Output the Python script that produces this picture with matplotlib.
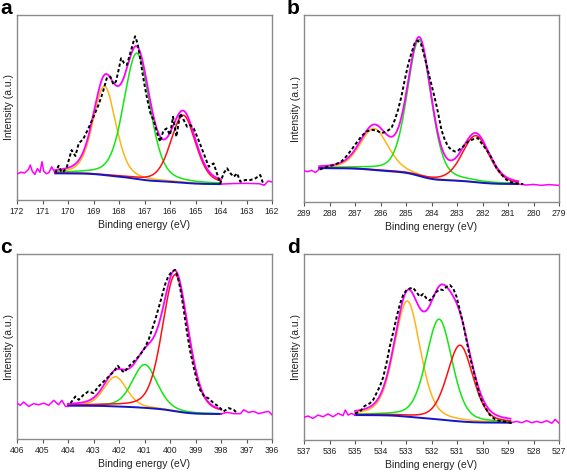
import numpy as np
import matplotlib
matplotlib.use('Agg')
import matplotlib.pyplot as plt

plt.rcParams['font.family'] = ['Liberation Sans', 'DejaVu Sans']

# colours of the fit components (high BE -> low BE)
COMP_COLORS = ['#ffb414', '#14e614', '#ff1010']
ENV_COLOR = '#ff00ff'
BASE_COLOR = '#1414c8'
GL_MIX = 0.3   # lorentzian share of the peak shape

# --- panel a ---------------------------------------------------------
a_xlim = (172, 162)
a_fit = (170.5, 164.0)           # fit window (high BE, low BE)
a_base = (14.4, 8.6)             # background at high BE end / low BE end
a_pos = [168.57, 167.30, 165.48]
a_amp = [48.0, 68.0, 36.5]
a_fwhm = [1.05, 1.20, 1.15]
a_raw_e = [170.50, 170.37, 170.25, 170.17, 170.04, 169.86, 169.71, 169.58, 169.40, 169.20,
           169.00, 168.80, 168.65, 168.48, 168.34, 168.22, 168.12, 168.03, 167.92, 167.80,
           167.69, 167.57, 167.45, 167.37, 167.27, 167.16, 167.03, 166.90, 166.77, 166.64,
           166.50, 166.39, 166.26, 166.13, 166.00, 165.88, 165.75, 165.60, 165.46, 165.33,
           165.20, 165.07, 164.88, 164.68, 164.48, 164.29, 164.16, 164.03, 163.90, 163.76,
           163.63, 163.50, 163.37, 163.24, 163.05, 162.85, 162.65, 162.46, 162.33]
a_raw_i = [14.4, 18.5, 15.0, 15.5, 18.0, 27.0, 23.8, 30.6, 33.0, 38.7,
           45.0, 51.5, 57.5, 65.8, 66.7, 62.5, 64.0, 69.4, 76.6, 74.0,
           73.0, 78.8, 84.7, 88.5, 84.5, 75.7, 64.5, 55.0, 47.0, 43.0,
           36.0, 31.5, 37.5, 38.7, 35.1, 45.0, 34.2, 46.8, 43.2, 39.6,
           40.5, 38.7, 32.4, 25.2, 18.0, 19.8, 14.4, 9.0, 14.4, 17.1,
           14.4, 12.6, 14.4, 9.9, 10.8, 10.8, 11.7, 13.5, 8.1]
a_left_e = [172.0, 171.85, 171.7, 171.55, 171.48, 171.4, 171.3, 171.2, 171.1, 171.02,
            170.95, 170.85, 170.75, 170.64, 170.5]
a_left_i = [14.1, 15.0, 14.6, 16.5, 18.9, 15.5, 13.8, 17.0, 15.0, 20.7,
            15.5, 14.2, 14.8, 17.9, 14.4]
a_right_e = [164.0, 163.5, 163.0, 162.5, 162.3, 162.15, 162.0]
a_right_i = [8.6, 8.9, 9.0, 8.8, 8.0, 10.3, 9.7]

# --- panel b ---------------------------------------------------------
b_xlim = (289, 279)
b_fit = (288.4, 280.6)
b_base = (18.1, 9.6)
b_pos = [286.25, 284.48, 282.26]
b_amp = [22.2, 72.9, 24.9]
b_fwhm = [1.30, 1.10, 1.25]
b_raw_e = [288.38, 288.06, 287.80, 287.53, 287.34, 287.14, 286.95, 286.75, 286.55, 286.36,
           286.16, 285.96, 285.77, 285.57, 285.44, 285.31, 285.18, 285.05, 284.92, 284.79,
           284.66, 284.55, 284.42, 284.29, 284.13, 284.00, 283.87, 283.74, 283.61, 283.48,
           283.35, 283.22, 283.08, 282.95, 282.76, 282.56, 282.36, 282.19, 282.04, 281.84,
           281.64, 281.45, 281.25, 281.06, 280.86, 280.60, 280.40]
b_raw_i = [17.4, 19.0, 19.9, 21.7, 24.4, 27.9, 31.5, 35.1, 37.7, 38.6,
           38.3, 36.8, 37.7, 39.5, 43.9, 49.3, 56.4, 65.3, 73.3, 79.5,
           84.9, 86.3, 84.9, 78.6, 69.8, 62.6, 55.5, 47.5, 38.6, 33.3,
           29.7, 27.9, 27.0, 27.6, 29.7, 32.4, 33.6, 34.2, 31.5, 27.9,
           23.5, 18.1, 14.6, 11.9, 10.5, 9.8, 9.6]
b_left_e = [289.0, 288.85, 288.7, 288.55, 288.4]
b_left_i = [16.7, 16.2, 16.9, 15.8, 17.6]
b_right_e = [280.6, 280.3, 280.0, 279.7, 279.4, 279.0]
b_right_i = [9.6, 9.1, 9.4, 8.9, 9.3, 8.9]

# --- panel c ---------------------------------------------------------
c_xlim = (406, 396)
c_fit = (404.0, 398.0)
c_base = (18.0, 13.5)
c_pos = [402.14, 400.99, 399.79]
c_amp = [16.0, 23.4, 73.8]
c_fwhm = [1.05, 1.15, 1.20]
c_raw_e = [403.90, 403.71, 403.58, 403.39, 403.20, 403.00, 402.80, 402.60, 402.40, 402.20,
           402.05, 401.92, 401.80, 401.62, 401.42, 401.23, 401.03, 400.84, 400.71, 400.58,
           400.45, 400.32, 400.20, 400.07, 399.93, 399.80, 399.70, 399.60, 399.48, 399.35,
           399.22, 399.08, 398.95, 398.82, 398.66, 398.50, 398.29, 398.10, 397.90, 397.70,
           397.50, 397.37]
c_raw_i = [19.4, 23.0, 21.2, 23.9, 25.7, 24.8, 28.4, 31.1, 33.8, 36.5,
           39.6, 37.4, 36.0, 39.2, 41.9, 44.6, 48.2, 53.6, 59.0, 64.4,
           70.7, 77.0, 83.3, 87.8, 90.5, 91.4, 87.8, 81.5, 71.6, 59.0,
           48.2, 39.2, 32.0, 26.6, 23.0, 22.1, 19.4, 17.6, 14.9, 16.7,
           15.8, 14.0]
c_left_e = [406.0, 405.87, 405.74, 405.54, 405.35, 405.15, 404.95, 404.76, 404.56, 404.37,
            404.24, 404.1, 404.0]
c_left_i = [19.4, 18.2, 20.0, 17.6, 19.1, 18.5, 19.4, 18.2, 20.9, 18.5,
            20.9, 17.6, 17.6]
c_right_e = [398.0, 397.76, 397.5, 397.24, 397.11, 396.92, 396.72, 396.52, 396.33, 396.13, 396.0]
c_right_i = [13.5, 14.4, 13.7, 13.7, 15.8, 14.4, 14.9, 13.7, 14.4, 14.9, 13.1]

# --- panel d ---------------------------------------------------------
d_xlim = (537, 527)
d_fit = (535.0, 528.9)
d_base = (13.4, 9.3)
d_pos = [532.95, 531.70, 530.88]
d_amp = [62.2, 53.9, 41.0]
d_fwhm = [1.20, 1.20, 1.20]
d_raw_e = [535.00, 534.81, 534.62, 534.42, 534.29, 534.16, 534.03, 533.90, 533.77, 533.64,
           533.50, 533.37, 533.24, 533.11, 532.98, 532.85, 532.72, 532.59, 532.46, 532.33,
           532.20, 532.07, 531.93, 531.80, 531.67, 531.54, 531.41, 531.28, 531.15, 531.02,
           530.89, 530.76, 530.63, 530.50, 530.36, 530.23, 530.10, 529.91, 529.71, 529.51,
           529.32, 529.12, 528.92, 528.80]
d_raw_i = [14.3, 15.2, 18.3, 19.7, 21.5, 25.1, 28.7, 33.5, 41.0, 50.0,
           58.0, 66.0, 73.0, 78.0, 80.6, 81.5, 81.8, 79.5, 77.1, 78.5,
           76.2, 75.0, 77.1, 79.7, 81.0, 80.6, 82.4, 83.3, 81.5, 77.1,
           69.9, 62.7, 53.8, 44.8, 37.6, 30.5, 23.3, 17.9, 13.4, 11.1,
           10.2, 9.9, 9.3, 9.0]
d_left_e = [537.0, 536.84, 536.65, 536.45, 536.25, 536.06, 535.86, 535.66, 535.47, 535.38,
            535.27, 535.14, 535.0]
d_left_i = [12.2, 12.9, 11.6, 13.4, 12.5, 14.0, 12.5, 14.3, 13.1, 16.1,
            13.4, 14.3, 13.4]
d_right_e = [528.9, 528.66, 528.46, 528.27, 528.07, 527.88, 527.68, 527.48, 527.28, 527.15, 527.0]
d_right_i = [9.3, 10.0, 9.3, 10.4, 9.3, 10.0, 9.3, 10.4, 9.0, 11.1, 9.0]


def peak(e, pos, amp, fwhm):
    # gaussian-lorentzian sum line shape of one fitted component
    d = (e - pos) / fwhm
    return amp * ((1 - GL_MIX) * np.exp(-4 * np.log(2) * d**2) + GL_MIX / (1 + 4 * d**2))


def draw_panel(ax, xlim, fit, base, pos, amp, fwhm,
               raw_e, raw_i, left_e, left_i, right_e, right_i):
    e = np.linspace(fit[1], fit[0], 800)
    comps = [peak(e, p, a, w) for p, a, w in zip(pos, amp, fwhm)]
    total = np.sum(comps, axis=0)
    # shirley type background between the two end levels
    cum = np.concatenate([[0], np.cumsum((total[1:] + total[:-1]) / 2 * np.diff(e))])
    bg = base[1] + (base[0] - base[1]) * cum / cum[-1]

    for comp, col in zip(comps, COMP_COLORS):
        ax.plot(e, bg + comp, color=col, lw=1.1, zorder=2)
    ax.plot(e, bg, color=BASE_COLOR, lw=1.4, zorder=3)
    ax.plot(left_e, left_i, color=ENV_COLOR, lw=1.1, zorder=4)
    ax.plot(right_e, right_i, color=ENV_COLOR, lw=1.1, zorder=4)
    ax.plot(e, bg + total, color=ENV_COLOR, lw=1.3, zorder=4)
    ax.plot(raw_e, raw_i, color='black', lw=1.4, ls=(0, (1.7, 1.2)), zorder=5)

    ax.set_xlim(xlim)
    ax.set_ylim(0, 100)
    ax.set_xticks(np.arange(min(xlim), max(xlim) + 1))
    ax.set_yticks([])
    ax.tick_params(axis='x', direction='out', length=3, width=0.8, color='#555555',
                   labelsize=6.2, pad=2, labelcolor='#222222')
    for s in ax.spines.values():
        s.set_color('#8a8a8a')
        s.set_linewidth(1.0)
    ax.set_xlabel('Binding energy (eV)', fontsize=7.5, labelpad=3, color='#222222')
    ax.set_ylabel('Intensity (a.u.)', fontsize=7.5, labelpad=2, color='#222222')


fig = plt.figure(figsize=(5.67, 4.72), dpi=100)
W, H = 567, 472
boxes = {
    'a': (17, 15, 272, 200),
    'b': (304, 15, 559, 202),
    'c': (17, 254, 272, 439),
    'd': (304, 254, 559, 440),
}
panels = {
    'a': (a_xlim, a_fit, a_base, a_pos, a_amp, a_fwhm, a_raw_e, a_raw_i,
          a_left_e, a_left_i, a_right_e, a_right_i),
    'b': (b_xlim, b_fit, b_base, b_pos, b_amp, b_fwhm, b_raw_e, b_raw_i,
          b_left_e, b_left_i, b_right_e, b_right_i),
    'c': (c_xlim, c_fit, c_base, c_pos, c_amp, c_fwhm, c_raw_e, c_raw_i,
          c_left_e, c_left_i, c_right_e, c_right_i),
    'd': (d_xlim, d_fit, d_base, d_pos, d_amp, d_fwhm, d_raw_e, d_raw_i,
          d_left_e, d_left_i, d_right_e, d_right_i),
}

for letter, (x0, y0, x1, y1) in boxes.items():
    ax = fig.add_axes([x0 / W, 1 - y1 / H, (x1 - x0) / W, (y1 - y0) / H])
    draw_panel(ax, *panels[letter])
    fig.text((x0 - 17) / W, 1 - (y0 - 1) / H, letter, fontsize=15, fontweight='bold',
             ha='left', va='baseline')

fig.savefig('out.png', dpi=100)
